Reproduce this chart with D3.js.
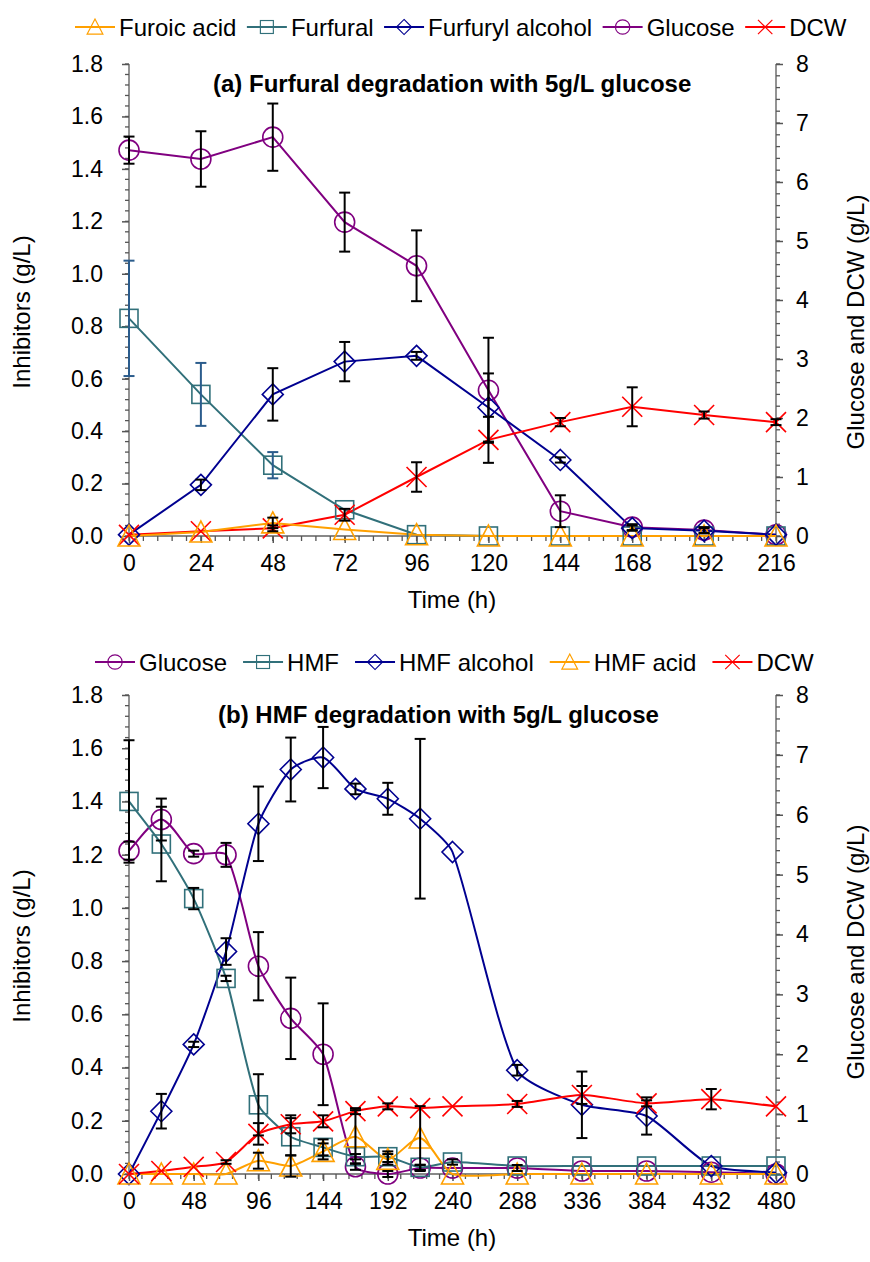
<!DOCTYPE html>
<html><head><meta charset="utf-8">
<script src="https://cdn.jsdelivr.net/npm/d3@7"></script>
<style>body{margin:0;background:#fff}svg{display:block}text{font-family:"Liberation Sans",Arial,sans-serif;fill:#000}</style>
</head><body>
<svg id="c" width="870" height="1262"></svg>
<script>
// ---------- Panel (a) data ----------
const timeA = [0,24,48,72,96,120,144,168,192,216];
const furoicA = [0,0.015,0.05,0.025,0.005,0,0,0,0,0];
const furoicAErr = [0,0,0.02,0,0,0,0,0,0,0];
const furfuralA = [0.83,0.54,0.27,0.10,0.005,0,0,0,0,0];
const furfuralAErr = [0.22,0.12,0.05,0,0,0,0,0,0,0];
const furfurylA = [0.005,0.195,0.54,0.665,0.687,0.49,0.29,0.03,0.02,0.005];
const furfurylAErr = [0,0.02,0.1,0.075,0.015,0.13,0.01,0.01,0.01,0];
const glucoseA = [6.54,6.39,6.76,5.32,4.58,2.47,0.42,0.15,0.1,0.02];
const glucoseAErr = [0.23,0.47,0.57,0.5,0.6,0.89,0.27,0.05,0.05,0];
const dcwA = [0.02,0.08,0.13,0.36,1.0,1.63,1.93,2.19,2.05,1.93];
const dcwAErr = [0,0,0.05,0.1,0.25,0.39,0.07,0.33,0.06,0.05];
const xTicksA = [0,24,48,72,96,120,144,168,192,216];

// ---------- Panel (b) data ----------
const timeB = [0,24,48,72,96,120,144,168,192,216,240,288,336,384,432,480];
const glucoseB = [5.4,5.92,5.35,5.33,3.47,2.6,2.0,0.12,0.0,0.1,0.1,0.1,0.05,0.05,0.03,0.0];
const glucoseBErr = [0.15,0.35,0.05,0.2,0.57,0.68,0.85,0.05,0.05,0.05,0,0.05,0,0,0,0];
const hmfB = [1.40,1.24,1.035,0.735,0.26,0.14,0.10,0.065,0.065,0.025,0.045,0.03,0.03,0.03,0.03,0.03];
const hmfBErr = [0.23,0.14,0.04,0.01,0.115,0.07,0.03,0.01,0.02,0.01,0.01,0,0,0,0,0];
const hmfAlcB = [0,0.236,0.487,0.836,1.316,1.52,1.565,1.447,1.41,1.335,1.21,0.39,0.26,0.218,0.03,0.005];
const hmfAlcBErr = [0,0.065,0.01,0.05,0.14,0.12,0.115,0.02,0.06,0.3,0,0.02,0.125,0.07,0,0];
const hmfAcidB = [0,0,0,0,0.05,0.03,0.085,0.14,0.055,0.135,0,0,0,0,0,0];
const hmfAcidBErr = [0,0,0,0,0.03,0.04,0.03,0.1,0.02,0.12,0,0,0,0,0,0];
const dcwB = [0,0.05,0.12,0.2,0.67,0.83,0.88,1.05,1.13,1.1,1.13,1.17,1.32,1.18,1.25,1.13];
const dcwBErr = [0,0,0,0.03,0.18,0.15,0.1,0.05,0.05,0,0,0.05,0.15,0.05,0.17,0];
const xTicksB = [0,48,96,144,192,240,288,336,384,432,480];

const leftTicks = [0,0.2,0.4,0.6,0.8,1.0,1.2,1.4,1.6,1.8];
const rightTicks = [0,1,2,3,4,5,6,7,8];

const C = {orange:"#FFA000", teal:"#31707A", navy:"#000090", purple:"#800080", red:"#FF0000"};

const svg = d3.select("#c");

// Excel-like smoothed path: tangent direction from neighbours, magnitude from segment length
function smoothPath(pts, s){
  const p = d3.path();
  const n = pts.length;
  const dir = pts.map((q,i)=>{
    const a = pts[Math.max(0,i-1)], b = pts[Math.min(n-1,i+1)];
    const dx = b[0]-a[0], dy = b[1]-a[1], L = Math.hypot(dx,dy)||1;
    return [dx/L, dy/L];
  });
  p.moveTo(pts[0][0], pts[0][1]);
  for(let i=0;i<n-1;i++){
    const a = pts[i], b = pts[i+1];
    const L = Math.hypot(b[0]-a[0], b[1]-a[1]);
    p.bezierCurveTo(a[0]+dir[i][0]*L*s, a[1]+dir[i][1]*L*s,
                    b[0]-dir[i+1][0]*L*s, b[1]-dir[i+1][1]*L*s, b[0], b[1]);
  }
  return p.toString();
}

function marker(g, type, color){
  const s = {fill:"none", stroke:color, "stroke-width":1.6};
  let el;
  if(type==="circle") el = g.append("circle").attr("r",10);
  else if(type==="square") el = g.append("rect").attr("x",-9).attr("y",-9).attr("width",18).attr("height",18);
  else if(type==="diamond") el = g.append("path").attr("d","M0,-10.5L10.5,0L0,10.5L-10.5,0Z");
  else if(type==="triangle") el = g.append("path").attr("d","M0,-11L11,10L-11,10Z");
  else if(type==="x") el = g.append("path").attr("d","M-10,-10L10,10M-10,10L10,-10");
  for(const k in s) el.attr(k,s[k]);
}

function panel(cfg){
  const x = d3.scaleLinear().domain([0,cfg.xMax]).range([129,776]);
  const yL = d3.scaleLinear().domain([0,1.8]).range([cfg.y0,cfg.y1]);
  const yR = d3.scaleLinear().domain([0,8]).range([cfg.y0,cfg.y1]);
  const g = svg.append("g");

  // axes
  const axL = g.append("g").attr("transform","translate(129,0)")
    .call(d3.axisLeft(yL).tickValues(leftTicks).tickFormat(d3.format(".1f")).tickSize(7).tickPadding(19));
  const minorL = d3.range(0,1.8001,0.04);
  g.append("g").selectAll("line").data(minorL).join("line")
    .attr("x1",125).attr("x2",129).attr("y1",d=>yL(d)).attr("y2",d=>yL(d)).attr("stroke","#555").attr("stroke-width",1.3);
  const axR = g.append("g").attr("transform","translate(776,0)")
    .call(d3.axisRight(yR).tickValues(rightTicks).tickFormat(d3.format("d")).tickSize(7).tickPadding(13));
  g.append("g").selectAll("line").data(d3.range(0,8.001,0.2)).join("line")
    .attr("x1",776).attr("x2",780).attr("y1",d=>yR(d)).attr("y2",d=>yR(d)).attr("stroke","#555").attr("stroke-width",1.3);
  const axB = g.append("g").attr("transform",`translate(0,${cfg.y0})`)
    .call(d3.axisBottom(x).tickValues(cfg.xTicks).tickFormat(d3.format("d")).tickSize(7).tickPadding(12));
  g.append("g").selectAll("line").data(d3.range(0,cfg.xMax+0.001,cfg.xMinor)).join("line")
    .attr("x1",d=>x(d)).attr("x2",d=>x(d)).attr("y1",cfg.y0).attr("y2",cfg.y0+5).attr("stroke","#555").attr("stroke-width",1.3);
  [axL,axR,axB].forEach(a=>{
    a.select(".domain").attr("stroke","#888").attr("stroke-width",1.8);
    a.selectAll(".tick line").attr("stroke","#555").attr("stroke-width",1.5);
    a.selectAll("text").attr("font-size",23).attr("font-family","Liberation Sans, Arial, sans-serif").attr("fill","#000");
  });
  axR.select(".domain").attr("d",`M0,${cfg.y0}V${cfg.y1}`);
  axL.select(".domain").attr("d",`M0,${cfg.y0}V${cfg.y1}`);
  axB.select(".domain").attr("d","M129,0H776");

  // titles
  g.append("text").attr("x",cfg.titleX).attr("y",cfg.y1+28).attr("font-size",24).attr("font-weight","bold").text(cfg.title);
  g.append("text").attr("x",452).attr("y",cfg.y0+72).attr("text-anchor","middle").attr("font-size",24).text("Time (h)");
  g.append("text").attr("transform",`translate(30,${cfg.leftTitleY}) rotate(-90)`).attr("text-anchor","middle").attr("font-size",24).text("Inhibitors (g/L)");
  g.append("text").attr("transform",`translate(864,${cfg.rightTitleY}) rotate(-90)`).attr("text-anchor","middle").attr("font-size",24).text("Glucose and DCW (g/L)");

  // series
  const lineLayer = g.append("g"), markLayer = g.append("g"), errLayer = g.append("g");
  cfg.series.forEach(s=>{
    const y = s.axis==="R" ? yR : yL;
    const pts = cfg.time.map((t,i)=>[x(t), y(s.values[i])]);
    const d = cfg.smooth ? smoothPath(pts, cfg.smooth) : d3.line()(pts);
    lineLayer.append("path").attr("d",d).attr("fill","none").attr("stroke",s.color).attr("stroke-width",2);
    pts.forEach(p=>marker(markLayer.append("g").attr("transform",`translate(${p[0]},${p[1]})`), s.marker, s.color));
    cfg.time.forEach((t,i)=>{
      const e = s.err[i]; if(!e) return;
      const xx = x(t), ya = y(s.values[i]-e), yb = y(s.values[i]+e);
      const ec = s.errColor || "#000";
      const eg = errLayer.append("g").attr("stroke",ec).attr("stroke-width",2);
      eg.append("line").attr("x1",xx).attr("x2",xx).attr("y1",ya).attr("y2",yb);
      eg.append("line").attr("x1",xx-5.5).attr("x2",xx+5.5).attr("y1",ya).attr("y2",ya);
      eg.append("line").attr("x1",xx-5.5).attr("x2",xx+5.5).attr("y1",yb).attr("y2",yb);
    });
  });

  // legend
  let lx = cfg.legendX;
  const ly = cfg.legendY;
  cfg.legend.forEach(s=>{
    const lg = g.append("g");
    lg.append("line").attr("x1",lx).attr("x2",lx+40).attr("y1",ly).attr("y2",ly).attr("stroke",s.color).attr("stroke-width",2);
    const mg = lg.append("g").attr("transform",`translate(${lx+20},${ly}) scale(0.72)`);
    marker(mg, s.marker, s.color);
    const t = lg.append("text").attr("x",lx+44).attr("y",ly+8.5).attr("font-size",24).text(s.name);
    lx += 44 + t.node().getComputedTextLength() + cfg.legendGap;
  });
}

const sA = {
  furoic:{name:"Furoic acid", values:furoicA, err:furoicAErr, color:C.orange, marker:"triangle", axis:"L"},
  furfural:{name:"Furfural", values:furfuralA, err:furfuralAErr, color:C.teal, marker:"square", axis:"L", errColor:"#2B5C8C"},
  furfuryl:{name:"Furfuryl alcohol", values:furfurylA, err:furfurylAErr, color:C.navy, marker:"diamond", axis:"L"},
  glucose:{name:"Glucose", values:glucoseA, err:glucoseAErr, color:C.purple, marker:"circle", axis:"R"},
  dcw:{name:"DCW", values:dcwA, err:dcwAErr, color:C.red, marker:"x", axis:"R"}
};
panel({
  xMax:216, xMinor:4.8, xTicks:xTicksA, time:timeA, y0:536, y1:64,
  title:"(a) Furfural degradation with 5g/L glucose", titleX:213,
  smooth:0, leftTitleY:312, rightTitleY:322,
  series:[sA.glucose, sA.furfural, sA.furfuryl, sA.dcw, sA.furoic],
  legend:[sA.furoic, sA.furfural, sA.furfuryl, sA.glucose, sA.dcw],
  legendX:75, legendY:27, legendGap:10.5
});

const sB = {
  glucose:{name:"Glucose", values:glucoseB, err:glucoseBErr, color:C.purple, marker:"circle", axis:"R"},
  hmf:{name:"HMF", values:hmfB, err:hmfBErr, color:C.teal, marker:"square", axis:"L"},
  alc:{name:"HMF alcohol", values:hmfAlcB, err:hmfAlcBErr, color:C.navy, marker:"diamond", axis:"L"},
  acid:{name:"HMF acid", values:hmfAcidB, err:hmfAcidBErr, color:C.orange, marker:"triangle", axis:"L"},
  dcw:{name:"DCW", values:dcwB, err:dcwBErr, color:C.red, marker:"x", axis:"R"}
};
panel({
  xMax:480, xMinor:9.6, xTicks:xTicksB, time:timeB, y0:1174, y1:695,
  title:"(b) HMF degradation with 5g/L glucose", titleX:218,
  smooth:0.2, leftTitleY:946, rightTitleY:952,
  series:[sB.glucose, sB.hmf, sB.alc, sB.acid, sB.dcw],
  legend:[sB.glucose, sB.hmf, sB.alc, sB.acid, sB.dcw],
  legendX:95, legendY:662, legendGap:16
});
</script>
</body></html>
